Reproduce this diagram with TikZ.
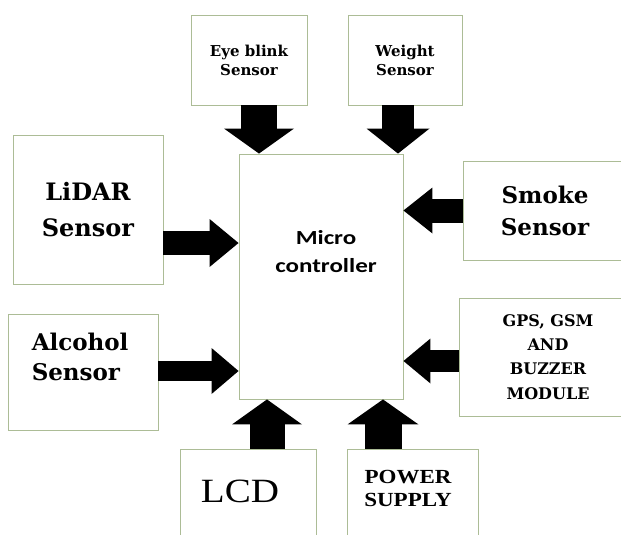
\documentclass[tikz,border=0pt]{standalone}
\usepackage{fontspec}
\setmainfont{DejaVu Serif}
\newfontfamily\timesfont[FakeStretch=1.15]{Liberation Serif}
\newfontfamily\calfont[FakeStretch=1.25]{Carlito}
\usetikzlibrary{arrows.meta}
\definecolor{boxline}{RGB}{172,188,150}

\begin{document}
\begin{tikzpicture}[x=1pt,y=-1pt,
    box/.style={draw=boxline, line width=0.9pt, inner sep=0pt, align=center},
    fat/.style n args={3}{line width=#1, -{Triangle[length=#3, width=#2, line width=0pt]}}]
	\clip (0,0) rectangle (621,535);
	\fill[white] (0,0) rectangle (621,535);
	% blocks
	\node[box, minimum width=116pt, minimum height=90pt, font=\fontsize{15}{19}\selectfont\bfseries] (eye) at (249,60) {Eye blink\\Sensor};
	\node[box, minimum width=114pt, minimum height=90pt, font=\fontsize{15}{19}\selectfont\bfseries] (weight) at (405,60) {Weight\\Sensor};
	\node[box, minimum width=150pt, minimum height=149pt, font=\fontsize{24}{36}\selectfont\bfseries] (lidar) at (88,209.5) {LiDAR\\Sensor};
	\node[box, minimum width=164pt, minimum height=245pt] (micro) at (321,276.5) {};
	\node[box, minimum width=164pt, minimum height=99pt, font=\fontsize{23}{32}\selectfont\bfseries] (smoke) at (545,210.5) {Smoke\\Sensor};
	\node[box, minimum width=178pt, minimum height=118pt, font=\fontsize{16}{24.3}\selectfont\bfseries] (gps) at (548,357) {GPS, GSM\\AND\\BUZZER\\MODULE};
	\node[box, minimum width=150pt, minimum height=116pt] (alcohol) at (83,372) {};
	\node[box, minimum width=136pt, minimum height=100pt] (lcd) at (248,499) {};
	\node[box, minimum width=131pt, minimum height=100pt] (power) at (412.5,499) {};
	% texts off centre
	\node[inner sep=0pt, align=center, font=\calfont\fontsize{20}{28}\selectfont\bfseries] (microtxt) at ([xshift=5pt,yshift=24.5pt]micro.center) {Micro\\controller};
	\node[inner sep=0pt, anchor=west, align=left, font=\fontsize{23}{30}\selectfont\bfseries] (alctxt) at ([xshift=24pt,yshift=15pt]alcohol.west) {Alcohol\\Sensor};
	\node[inner sep=0pt, font=\timesfont\fontsize{34}{40}\selectfont] (lcdtxt) at ([xshift=-8pt,yshift=8pt]lcd.center) {LCD};
	\node[inner sep=0pt, align=center, font=\timesfont\fontsize{20}{23}\selectfont\bfseries] (pwrtxt) at ([xshift=-4.5pt,yshift=10.5pt]power.center) {POWER\\SUPPLY};
	% arrows into the controller
	\draw[fat={36pt}{70pt}{25pt}] ([xshift=10pt]eye.south) -- ([xshift=10pt]eye.south |- micro.north);
	\draw[fat={32pt}{63pt}{25pt}] ([xshift=-7pt]weight.south) -- ([xshift=-7pt]weight.south |- micro.north);
	\draw[fat={24pt}{48pt}{29pt}] ([yshift=-33.5pt]lidar.east) -- ([yshift=-33.5pt]lidar.east -| micro.west);
	\draw[fat={20pt}{46pt}{27pt}] ([yshift=1pt]alcohol.east) -- ([yshift=1pt]alcohol.east -| micro.west);
	\draw[fat={24pt}{46pt}{29pt}] (smoke.west) -- (smoke.west -| micro.east);
	\draw[fat={22pt}{45pt}{27pt}] ([yshift=-4pt]gps.west) -- ([yshift=-4pt]gps.west -| micro.east);
	\draw[fat={35pt}{70pt}{25pt}] ([xshift=19pt]lcd.north) -- ([xshift=19pt]lcd.north |- micro.south);
	\draw[fat={37pt}{71pt}{25pt}] ([xshift=-29.5pt]power.north) -- ([xshift=-29.5pt]power.north |- micro.south);
\end{tikzpicture}
\end{document}
